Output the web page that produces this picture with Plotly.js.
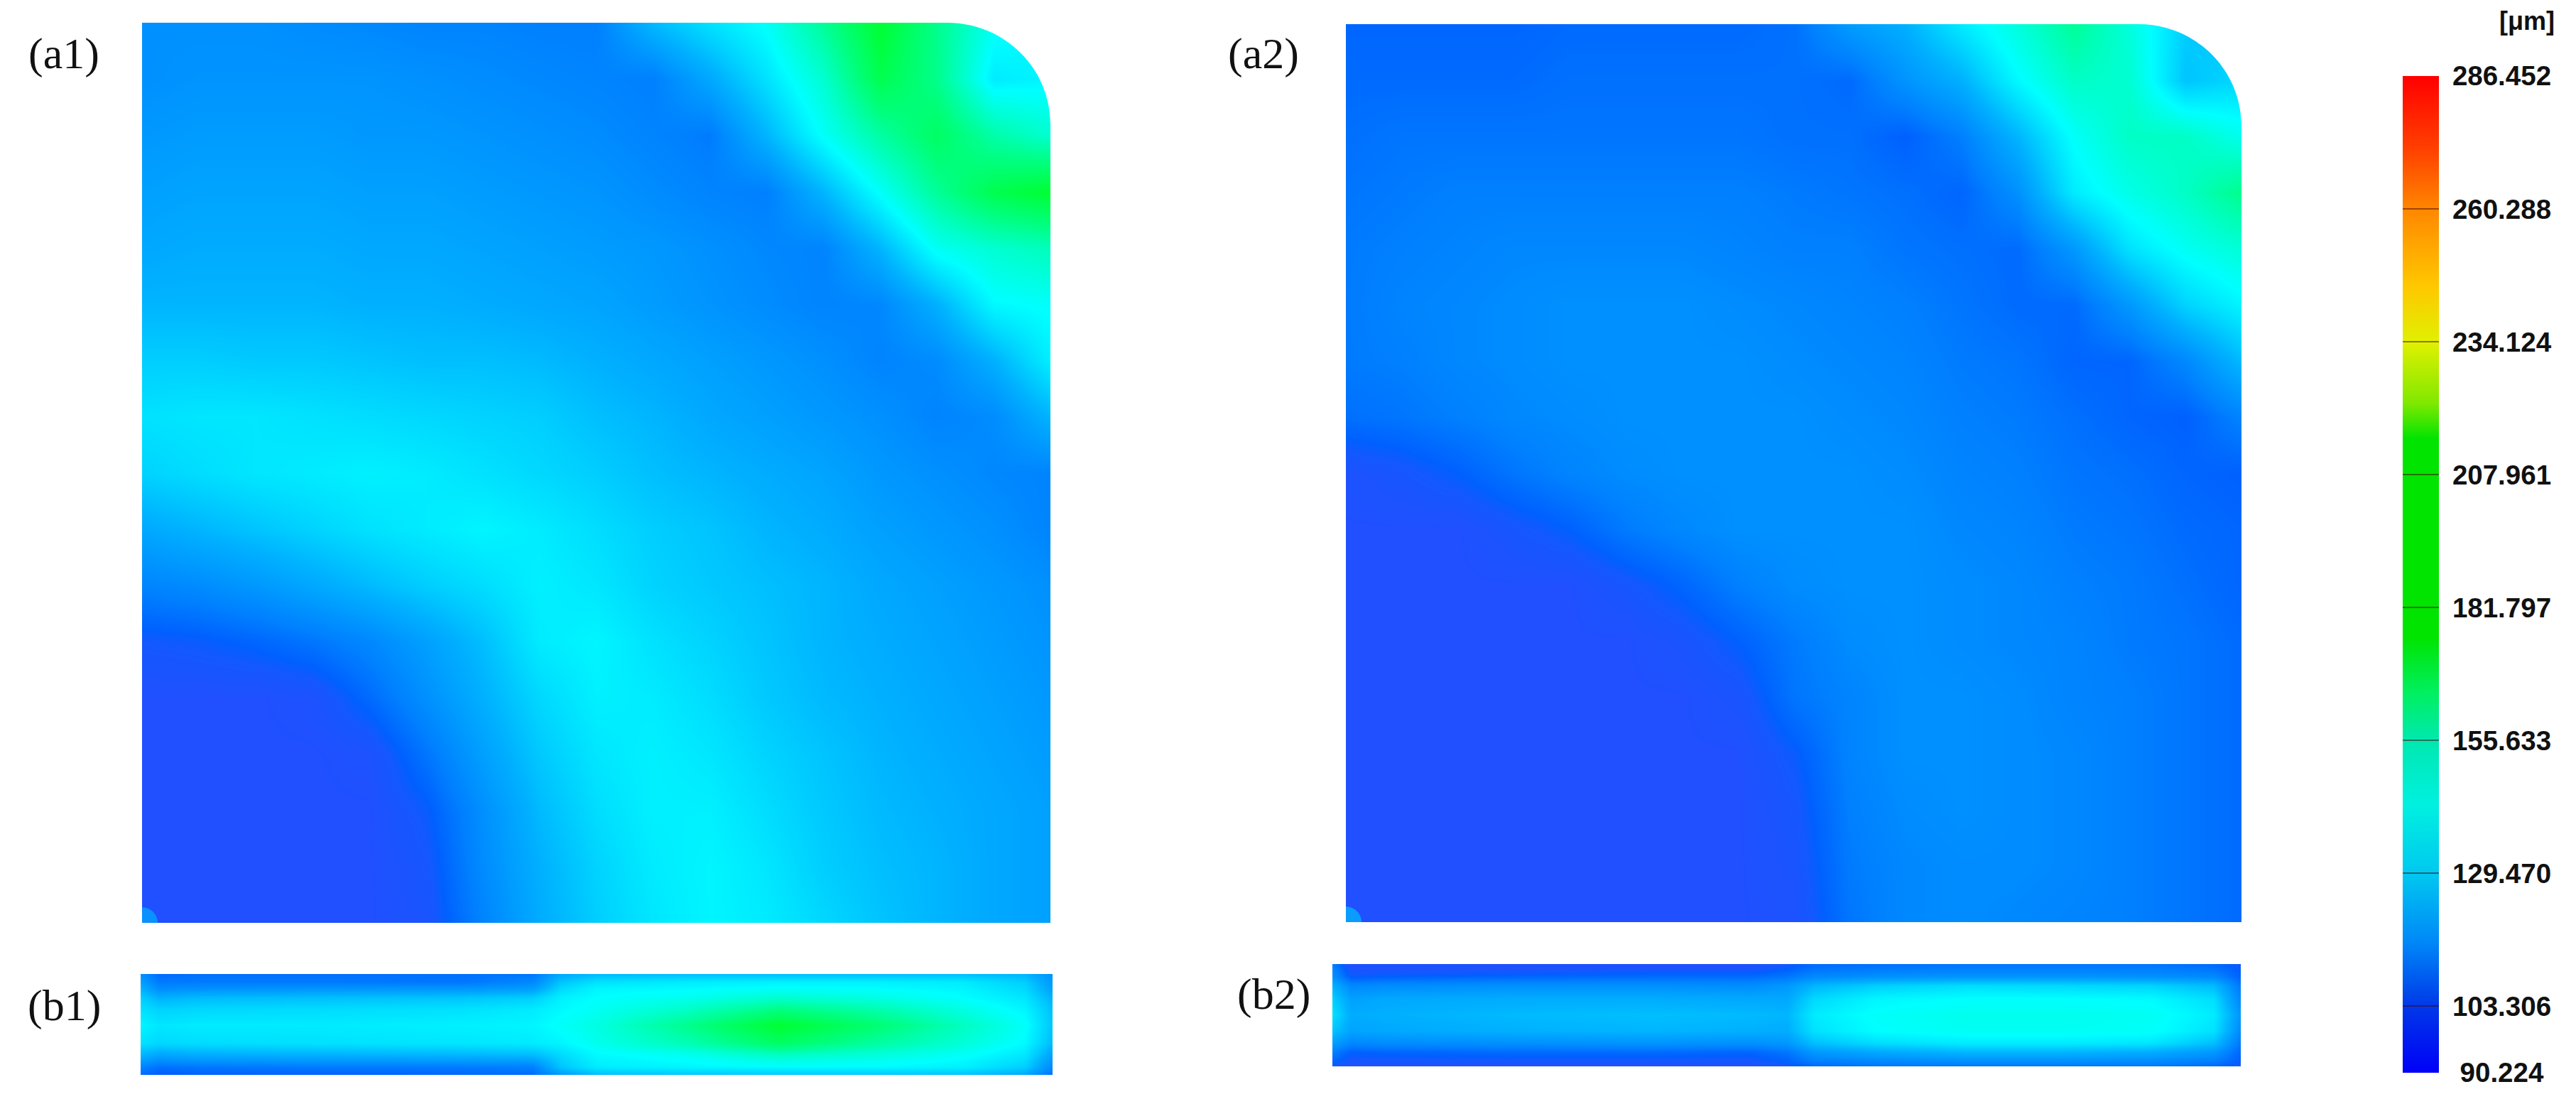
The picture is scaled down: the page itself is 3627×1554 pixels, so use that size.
<!DOCTYPE html>
<html>
<head>
<meta charset="utf-8">
<script src="https://cdn.plot.ly/plotly-3.0.1.min.js"></script>
<style>html,body{margin:0;padding:0;background:#fff}</style>
</head>
<body>
<div id="plot" style="width:3627px;height:1554px"></div>
<script>
// grid positions, percent of each panel (y runs downward)
var gridA = [0,6.25,12.5,18.75,25,31.25,37.5,43.75,50,56.25,62.5,68.75,75,81.25,87.5,93.75,100];
var gridB1x = [0,2,6,20,35,43,46,50,60,70,80,90,97,100];
var gridB2x = [0,2,6,20,35,46,50,53,60,70,80,90,97,100];
var gridB1y = [0,8,14,23,35,51,68,80,92,100];
var gridB2y = [0,5,12,21,33,49,65,77,86,96,100];

var zA1 = [
 [116,116,116,115,114,113,113,112,112,126,134,141,158,178,160,142,138],
 [116,117,117,117,117,116,115,114,113,112,122,134,148,172,160,136,138],
 [118,119,119,119,118,118,117,116,115,113,111,125,141,156,168,155,148],
 [120,121,121,121,120,120,119,118,117,115,113,112,125,141,158,172,178],
 [122,123,123,123,122,122,121,120,119,118,116,114,113,125,142,148,152],
 [125,125,125,125,124,124,123,122,121,119,117,115,113,114,124,139,141],
 [130,130,129,129,128,127,127,126,124,122,120,118,116,113,115,124,137],
 [134,135,135,134,133,132,131,130,127,125,122,120,118,116,113,115,125],
 [131,133,135,136,137,136,134,132,130,127,125,123,121,118,116,114,113],
 [122,125,128,131,134,136,138,136,133,130,128,125,123,120,118,116,113],
 [113,115,118,122,126,130,133,137,135,131,129,127,125,122,120,118,116],
 [104,105,107,110,114,120,127,136,138,134,131,128,125,123,121,119,117],
 [100,100,100,101,108,116,124,132,137,136,133,129,126,124,122,120,118],
 [100,100,100,100,101,110,120,129,135,137,135,131,128,125,123,121,119],
 [100,100,100,100,100,105,116,126,133,137,137,133,129,126,124,122,120],
 [100,100,100,100,100,103,115,124,131,136,138,135,130,127,125,122,120],
 [100,100,100,100,100,102,113,123,130,135,138,136,132,128,125,122,120]
];

var zA2 = [
 [107,107,107,107,108,108,108,108,109,119,124,136,146,158,146,130,127],
 [108,108,108,108,109,109,109,109,109,108,117,124,139,150,148,128,132],
 [109,110,110,110,110,110,110,110,109,109,106,112,125,141,150,150,143],
 [110,111,112,112,112,112,112,112,111,110,109,107,116,136,144,150,160],
 [111,112,113,114,114,114,114,113,112,112,110,109,108,118,134,142,147],
 [111,113,114,115,116,116,116,115,114,113,112,110,108,108,118,131,138],
 [111,112,114,115,116,116,116,116,115,114,113,111,110,107,107,114,126],
 [109,110,112,114,115,116,116,116,116,115,114,112,111,109,107,106,113],
 [101,103,106,110,113,115,116,116,116,116,115,113,112,110,109,107,106],
 [100,100,100,103,106,111,114,116,116,116,116,114,113,111,110,108,107],
 [100,100,100,100,100,103,107,112,115,116,116,115,114,112,111,109,107],
 [100,100,100,100,100,100,102,106,111,115,116,115,114,113,111,110,108],
 [100,100,100,100,100,100,100,102,110,113,116,116,115,113,112,110,108],
 [100,100,100,100,100,100,100,100,105,113,116,116,115,114,112,110,108],
 [100,100,100,100,100,100,100,100,103,112,115,116,115,114,112,110,108],
 [100,100,100,100,100,100,100,100,102,111,114,115,115,114,112,110,108],
 [100,100,100,100,100,100,100,100,101,110,114,115,114,113,112,110,108]
];

var zB1 = [
 [116,108,109,109,109,110,122,126,127,127,127,127,125,116],
 [120,111,111,111,110,114,128,134,136,137,137,136,130,118],
 [124,115,116,117,117,119,132,138,139,141,140,138,132,120],
 [130,124,126,127,128,130,137,140,143,148,145,140,135,124],
 [134,131,132,133,134,136,139,142,150,162,155,145,138,127],
 [138,135,136,136,137,138,141,145,160,178,166,151,141,128],
 [134,132,133,134,135,136,138,143,153,168,157,147,139,126],
 [125,121,123,124,125,126,132,139,142,150,146,141,135,120],
 [113,109,110,111,111,112,128,136,138,139,139,137,130,114],
 [108,105,106,106,107,108,118,126,128,128,128,127,122,108]
];

var zB2 = [
 [112,100,100,100,100,100,104,108,109,110,110,110,108,104],
 [114,102,102,102,103,103,106,110,111,112,112,112,110,105],
 [116,105,106,107,108,108,110,114,116,117,117,116,114,106],
 [124,114,115,116,116,115,118,125,130,133,132,131,126,110],
 [130,120,122,123,123,122,122,132,138,140,140,139,133,113],
 [134,123,124,126,127,126,125,136,141,143,143,142,136,117],
 [128,121,122,124,125,124,123,134,140,142,142,141,134,114],
 [120,114,115,116,117,116,118,127,133,136,136,135,127,110],
 [112,106,107,108,108,107,110,118,122,125,125,123,118,107],
 [106,103,103,103,103,103,106,111,113,115,115,114,111,105],
 [104,100,100,100,100,100,103,107,109,109,109,109,107,103]
];

var zMin = 90.224, zMax = 286.452;
var barTicks = [90.224,103.306,129.470,155.633,181.797,207.961,234.124,260.288,286.452];
var barLabels = ['\u00a0\u00a090.224','\u00a0103.306','\u00a0129.470','\u00a0155.633','\u00a0181.797','\u00a0207.961','\u00a0234.124','\u00a0260.288','\u00a0286.452'];

var panelStops = [90.224,100,104,106,112,116,124,132,140,162,188,237,286.452];
var panelColors = ['#1a30ff','#2050ff','#1458ff','#0060ff','#0080ff','#0090ff','#00b0ff','#00d8ff','#00ffff','#00ff80','#00ff00','#ffff00','#ff0000'];
var barStops = [90.224,103.3,116,129.47,143,155.6,165,176,215,222,234,245,260,272,286.452];
var barColors = ['#0000f8','#0038e8','#0088f8','#00c8f0','#00f0e0','#00e8b0','#00f060','#00e400','#00e400','#80e800','#e0f000','#ffc800','#ff8800','#ff4000','#ff0000'];

function scale(stops, cols) {
    return stops.map(function (v, i) { return [(v - zMin) / (zMax - zMin), cols[i]]; });
}

var W = 3627, H = 1554;

// panel boxes in page pixels: left, right, top, bottom
var boxes = {
    a1: [200, 1479, 32, 1299],
    a2: [1895, 3156, 34, 1298],
    b1: [198, 1482, 1371, 1513],
    b2: [1876, 3155, 1357, 1501]
};

function heat(name, ax, xs, ys, z) {
    return {
        type: 'heatmap', x: xs, y: ys, z: z,
        xaxis: 'x' + ax, yaxis: 'y' + ax,
        zmin: zMin, zmax: zMax, zsmooth: 'best',
        colorscale: scale(panelStops, panelColors),
        showscale: false, name: name
    };
}

function spot(ax, color) {
    return {
        type: 'scatter', mode: 'markers', x: [0], y: [100],
        xaxis: 'x' + ax, yaxis: 'y' + ax,
        marker: {size: 44, color: color, line: {width: 0}},
        showlegend: false
    };
}

// only here for the scale: its one cell sits outside the axis range
var scaleTrace = {
    type: 'heatmap', x: [-20, -10], y: [-20], z: [[zMin, zMax]],
    xaxis: 'x', yaxis: 'y', zmin: zMin, zmax: zMax,
    colorscale: scale(barStops, barColors),
    colorbar: {
        x: 3383 / W, xanchor: 'left', xpad: 0,
        y: 1 - 107 / H, yanchor: 'top', ypad: 0,
        len: 1403, lenmode: 'pixels',
        thickness: 51, thicknessmode: 'pixels',
        outlinewidth: 0,
        tickmode: 'array', tickvals: barTicks, ticktext: barLabels,
        ticks: 'inside', ticklen: 51, tickwidth: 2, tickcolor: 'rgba(70,0,0,0.5)',
        tickfont: {family: 'Liberation Sans', size: 38.5, weight: 'bold', color: '#111'}
    }
};

var data = [
    scaleTrace,
    heat('a1', '', gridA, gridA, zA1),
    heat('a2', '2', gridA, gridA, zA2),
    heat('b1', '3', gridB1x, gridB1y, zB1),
    heat('b2', '4', gridB2x, gridB2y, zB2),
    spot('', '#0a90ff'),
    spot('2', '#0a9cff')
];

function axis(lo, hi, size, range) {
    return {domain: [lo / size, hi / size], range: range, visible: false, fixedrange: true};
}

// white curved cut for the rounded corner of the a panels
function corner(suffix, box) {
    var rx = 145 / (box[1] - box[0]) * 100;
    var ry = 143 / (box[3] - box[2]) * 100;
    var k = 0.5523;
    var px = 100 - rx, py = ry;
    return {
        type: 'path', xref: 'x' + suffix, yref: 'y' + suffix, layer: 'above',
        fillcolor: '#fff', line: {width: 0},
        path: 'M' + px + ',-1 L' + px + ',0 C' + (px + rx * k) + ',0 100,' + (py - ry * k) + ' 100,' + py +
              ' L101,' + py + ' L101,-1 Z'
    };
}

function panelLabel(text, x, y) {
    return {
        text: text, xref: 'paper', yref: 'paper', x: x / W, y: 1 - y / H,
        showarrow: false, xanchor: 'center', yanchor: 'middle',
        font: {family: 'Liberation Serif', size: 62, color: '#111'}
    };
}

var layout = {
    width: W, height: H,
    margin: {l: 0, r: 0, t: 0, b: 0, autoexpand: false},
    paper_bgcolor: '#fff', plot_bgcolor: '#fff',
    showlegend: false,
    xaxis: axis(boxes.a1[0], boxes.a1[1], W, [0, 100]),
    yaxis: axis(H - boxes.a1[3], H - boxes.a1[2], H, [100, 0]),
    xaxis2: axis(boxes.a2[0], boxes.a2[1], W, [0, 100]),
    yaxis2: axis(H - boxes.a2[3], H - boxes.a2[2], H, [100, 0]),
    xaxis3: axis(boxes.b1[0], boxes.b1[1], W, [0, 100]),
    yaxis3: axis(H - boxes.b1[3], H - boxes.b1[2], H, [100, 0]),
    xaxis4: axis(boxes.b2[0], boxes.b2[1], W, [0, 100]),
    yaxis4: axis(H - boxes.b2[3], H - boxes.b2[2], H, [100, 0]),
    shapes: [corner('', boxes.a1), corner('2', boxes.a2)],
    annotations: [
        panelLabel('(a1)', 90, 76),
        panelLabel('(a2)', 1779, 76),
        panelLabel('(b1)', 90, 1415),
        panelLabel('(b2)', 1793, 1399),
        {
            text: '[μm]', xref: 'paper', yref: 'paper', x: 3558 / W, y: 1 - 29 / H,
            showarrow: false, xanchor: 'center', yanchor: 'middle',
            font: {family: 'Liberation Sans', size: 36, weight: 'bold', color: '#111'}
        }
    ]
};

Plotly.newPlot('plot', data, layout, {displayModeBar: false, staticPlot: true});
</script>
</body>
</html>
